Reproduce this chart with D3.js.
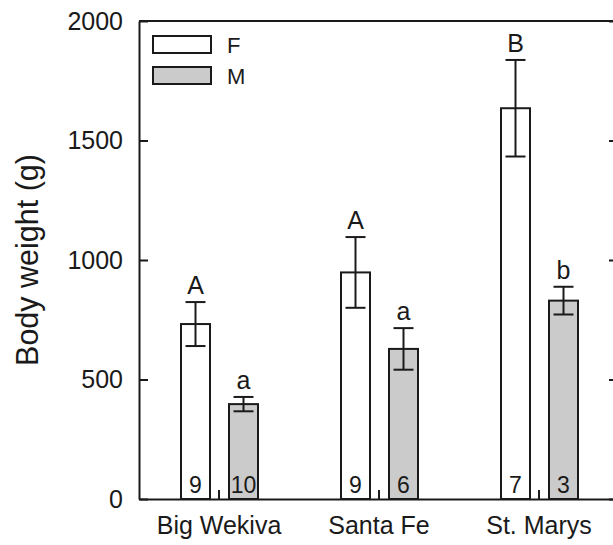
<!DOCTYPE html>
<html lang="en">
<head>
<meta charset="UTF-8"/>
<title>Body weight by river and sex</title>
<style>
  * { margin: 0; padding: 0; }
  body { background: #fff; width: 613px; height: 545px; overflow: hidden; }
  svg { display: block; font-family: "Liberation Sans", Arial, sans-serif; }
  .axis path, .axis line { stroke: #1a1a1a; stroke-width: 2px; }
  .axis text { fill: #1a1a1a; font-size: 25px; font-family: "Liberation Sans", Arial, sans-serif; }
</style>
</head>
<body>
<svg id="chart" width="613" height="545"></svg>
<script src="https://cdn.jsdelivr.net/npm/d3@7/dist/d3.min.js"></script>
<script>
// --- data ---
const rivers   = ['Big Wekiva', 'Santa Fe', 'St. Marys']
const sexes    = ['F', 'M']
const meanF    = [732, 948, 1635]
const meanM    = [397, 628, 830]
const seF      = [92, 148, 202]
const seM      = [30, 87, 58]
const lettersF = ['A', 'A', 'B']
const lettersM = ['a', 'a', 'b']
const nF       = [9, 9, 7]
const nM       = [10, 6, 3]
const yTicks   = [0, 500, 1000, 1500, 2000]

const fills = { F: '#ffffff', M: '#cbcbcb' }

const rows = []
rivers.forEach((r, i) => {
  rows.push({ river: r, sex: 'F', mean: meanF[i], se: seF[i], letter: lettersF[i], n: nF[i] })
  rows.push({ river: r, sex: 'M', mean: meanM[i], se: seM[i], letter: lettersM[i], n: nM[i] })
})

const plotL = 139, plotR = 619, plotT = 21, plotB = 499
const svg = d3.select('#chart')

const x = d3.scaleBand().domain(rivers).range([plotL, plotR])
const xs = d3.scaleBand().domain(sexes).range([-38, 39]).paddingInner(19 / 48)
const y = d3.scaleLinear().domain([0, 2000]).range([plotB, plotT])

const cx = d => x(d.river) + x.bandwidth() / 2 + xs(d.sex)
const mid = d => cx(d) + xs.bandwidth() / 2

// bars
svg.append('g').selectAll('rect')
  .data(rows)
  .join('rect')
    .attr('x', cx)
    .attr('y', d => y(d.mean))
    .attr('width', xs.bandwidth())
    .attr('height', d => y(0) - y(d.mean))
    .attr('fill', d => fills[d.sex])
    .attr('stroke', '#1a1a1a')
    .attr('stroke-width', 2)

// error bars
const eb = svg.append('g').attr('stroke', '#1a1a1a').attr('stroke-width', 2)
rows.forEach(d => {
  const m = mid(d)
  eb.append('line').attr('x1', m).attr('x2', m).attr('y1', y(d.mean - d.se)).attr('y2', y(d.mean + d.se))
  eb.append('line').attr('x1', m - 10).attr('x2', m + 10).attr('y1', y(d.mean + d.se)).attr('y2', y(d.mean + d.se))
  eb.append('line').attr('x1', m - 10).attr('x2', m + 10).attr('y1', y(d.mean - d.se)).attr('y2', y(d.mean - d.se))
})

// significance letters
svg.append('g').selectAll('text')
  .data(rows)
  .join('text')
    .attr('x', mid)
    .attr('y', d => y(d.mean + d.se) - 8)
    .attr('text-anchor', 'middle')
    .attr('font-size', 25)
    .attr('fill', '#1a1a1a')
    .text(d => d.letter)

// sample sizes
svg.append('g').selectAll('text')
  .data(rows)
  .join('text')
    .attr('x', mid)
    .attr('y', plotB - 6)
    .attr('text-anchor', 'middle')
    .attr('font-size', 23)
    .attr('fill', '#1a1a1a')
    .text(d => d.n)

// axes
svg.append('g').attr('class', 'axis')
  .attr('transform', `translate(${plotL},0)`)
  .call(d3.axisLeft(y).tickValues(yTicks).tickFormat(d3.format('d')).tickSize(-9).tickPadding(16).tickSizeOuter(0))

svg.append('g').attr('class', 'axis')
  .attr('transform', `translate(${plotR},0)`)
  .call(d3.axisRight(y).tickValues(yTicks).tickSize(-10).tickSizeOuter(0).tickFormat(''))

svg.append('g').attr('class', 'axis')
  .attr('transform', `translate(0,${plotB})`)
  .call(d3.axisBottom(x).tickSize(-9).tickPadding(17).tickSizeOuter(0))

svg.append('line')
  .attr('x1', plotL).attr('x2', plotR).attr('y1', plotT).attr('y2', plotT)
  .attr('stroke', '#1a1a1a').attr('stroke-width', 2)

// y title
svg.append('text')
  .attr('transform', 'translate(38,260) rotate(-90)')
  .attr('text-anchor', 'middle')
  .attr('font-size', 30.5)
  .attr('fill', '#1a1a1a')
  .text('Body weight (g)')

// legend
const lg = svg.append('g').attr('transform', 'translate(153,36)')
sexes.forEach((s, i) => {
  lg.append('rect')
    .attr('x', 0).attr('y', i * 31)
    .attr('width', 58).attr('height', 17)
    .attr('fill', fills[s]).attr('stroke', '#1a1a1a').attr('stroke-width', 2)
  lg.append('text')
    .attr('x', 74).attr('y', i * 31 + 17)
    .attr('font-size', 22)
    .attr('fill', '#1a1a1a')
    .text(s)
})
</script>
</body>
</html>
